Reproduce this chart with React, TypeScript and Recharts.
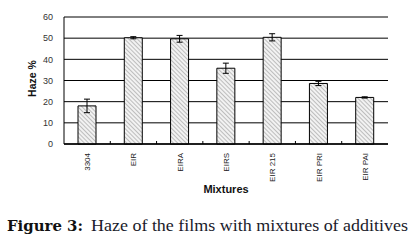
import { BarChart, Bar, XAxis, YAxis, CartesianGrid, ErrorBar, Label } from 'recharts';

// Haze of the films with mixtures of additives
const mixtures = ['3304', 'EIR', 'EIRA', 'EIRS', 'EIR 215', 'EIR PRI', 'EIR PAI'];
const haze = [18, 50.2, 49.7, 35.8, 50.4, 28.6, 22];
const hazeErr = [3.2, 0.5, 1.6, 2.4, 1.7, 1, 0.3];
const yTicks = [0, 10, 20, 30, 40, 50, 60];

const data = mixtures.map((name, i) => ({ name, haze: haze[i], err: hazeErr[i] }));

const AXIS_FONT = '"Liberation Sans", Arial, sans-serif';

// rotated category label plus a small inner tick at the category boundary
const MixTick = (props: any) => {
  const { x, y, payload, index } = props;
  const half = payload?.offset ?? 23;
  return (
    <g>
      {index < mixtures.length - 1 && (
        <line x1={x + half} y1={y} x2={x + half} y2={y - 3} stroke="#000" />
      )}
      <text
        x={x + 3}
        y={y + 9}
        transform={`rotate(-90, ${x + 3}, ${y + 9})`}
        textAnchor="end"
        fontSize={8}
        fontFamily={AXIS_FONT}
        fill="#222"
      >
        {payload.value}
      </text>
    </g>
  );
};

export default function App() {
  return (
    <div style={{ position: 'relative', width: 417, height: 243, background: '#fff' }}>
      <style>{'body{margin:0}'}</style>
      <BarChart
        width={417}
        height={243}
        data={data}
        margin={{ top: 17, right: 29, left: 0, bottom: 49 }}
      >
        <defs>
          <pattern
            id="hatch"
            patternUnits="userSpaceOnUse"
            width={3}
            height={3}
            patternTransform="rotate(-45)"
          >
            <rect width={3} height={3} fill="#f2f2f2" />
            <line x1={0} y1={0} x2={0} y2={3} stroke="#9a9a9a" strokeWidth={1.2} />
          </pattern>
        </defs>
        <CartesianGrid
          vertical={false}
          stroke="#000"
          strokeOpacity={1}
          horizontalValues={yTicks}
        />
        <XAxis
          dataKey="name"
          height={50}
          interval={0}
          tickLine={false}
          tickSize={0}
          tickMargin={0}
          tick={<MixTick />}
          axisLine={{ stroke: '#000', strokeWidth: 1.5 }}
        >
          <Label
            value="Mixtures"
            position="insideBottom"
            offset={1}
            style={{ fontFamily: AXIS_FONT, fontSize: 11, fontWeight: 'bold', fill: '#111' }}
          />
        </XAxis>
        <YAxis
          domain={[0, 60]}
          ticks={yTicks}
          interval={0}
          width={64}
          tickLine={false}
          tickSize={0}
          tickMargin={11}
          axisLine={{ stroke: '#000' }}
          tick={{ fontSize: 9, fontFamily: AXIS_FONT, fill: '#333' }}
        >
          <Label
            content={({ viewBox }: any) => {
              const cy = viewBox.y + viewBox.height / 2 - 2;
              return (
                <text
                  x={36}
                  y={cy}
                  transform={`rotate(-90, 36, ${cy})`}
                  textAnchor="middle"
                  fontSize={10.5}
                  fontWeight="bold"
                  fontFamily={AXIS_FONT}
                  fill="#111"
                >
                  Haze %
                </text>
              );
            }}
          />
        </YAxis>
        <YAxis
          yAxisId="frame"
          orientation="right"
          domain={[0, 60]}
          ticks={yTicks}
          interval={0}
          width={0}
          tick={false}
          tickLine={false}
          axisLine={{ stroke: '#000' }}
        />
        <Bar
          dataKey="haze"
          barSize={18}
          fill="url(#hatch)"
          stroke="#000"
          strokeWidth={1}
          isAnimationActive={false}
        >
          <ErrorBar dataKey="err" width={3} stroke="#000" strokeWidth={1} />
        </Bar>
      </BarChart>
      <svg
        width={417}
        height={40}
        style={{ position: 'absolute', left: 0, top: 203 }}
      >
        <text
          x={7}
          y={28}
          fontFamily='"DejaVu Serif", "Liberation Serif", serif'
          fontWeight="bold"
          fontSize={15}
          textLength={76}
          lengthAdjust="spacingAndGlyphs"
          fill="#111"
        >
          Figure 3:
        </text>
        <text
          x={91}
          y={28}
          fontFamily='"Liberation Serif", serif'
          fontSize={16}
          textLength={317}
          lengthAdjust="spacingAndGlyphs"
          fill="#1a1a2a"
        >
          Haze of the films with mixtures of additives
        </text>
      </svg>
    </div>
  );
}
